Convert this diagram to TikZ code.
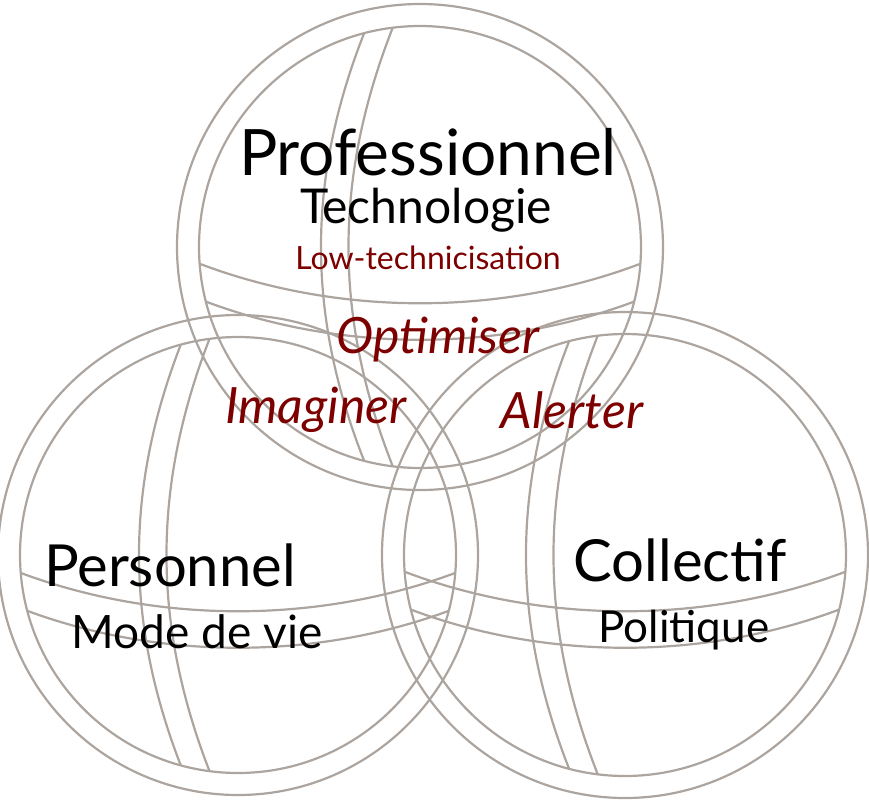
\documentclass[tikz,border=0pt]{standalone}
\usepackage{fontspec}
\setmainfont{Lato}
\definecolor{seam}{RGB}{172,164,158}
\definecolor{dred}{RGB}{125,0,0}
\begin{document}
\begin{tikzpicture}[x=0.5pt,y=-0.5pt,
  ln/.style={draw=seam,line width=1.1pt},
  t/.style={inner sep=0pt,anchor=center}]
\useasboundingbox (0,0) rectangle (869,800);
\newcommand{\ball}[3]{%
  \begin{scope}[shift={(#1,#2)}]
    \draw[ln] (0,0) circle (#3);
    \draw[ln] (0,0) circle (#3-22);
    \begin{scope}
      \clip (0,0) circle (#3-22);
      \draw[ln] (-36,-260) .. controls (-120,-80) and (-120,80) .. (-36,260);
      \draw[ln] (-10,-260) .. controls (-92,-80) and (-92,80) .. (-10,260);
      \draw[ln] (-260,0) .. controls (-100,75) and (100,75) .. (260,0);
      \draw[ln] (-260,35) .. controls (-100,112) and (100,112) .. (260,35);
    \end{scope}
  \end{scope}}
\ball{420}{247}{243}
\ball{238}{555}{240}
\ball{625}{555}{243}
\node[t] (p1) at (428,152) {\fontsize{32}{36}\selectfont Professionnel};
\node[t] (p2) at (426,210) {\fontsize{24}{28}\selectfont Technologie};
\node[t,text=dred] (p3) at (428,258) {\fontsize{16}{19}\selectfont Low-technicisation};
\node[t,text=dred] (o) at (438,340) {\fontsize{25}{29}\selectfont\itshape Optimiser};
\node[t,text=dred] (i) at (316,410) {\fontsize{25}{29}\selectfont\itshape Imaginer};
\node[t,text=dred] (a) at (572,410) {\fontsize{25}{29}\selectfont\itshape Alerter};
\node[t] (s1) at (170,565) {\fontsize{29}{33}\selectfont Personnel};
\node[t] (s2) at (197,632) {\fontsize{23}{27}\selectfont Mode de vie};
\node[t] (c1) at (680,560) {\fontsize{29}{33}\selectfont Collectif};
\node[t] (c2) at (684,630) {\fontsize{22}{26}\selectfont Politique};
\end{tikzpicture}
\end{document}
